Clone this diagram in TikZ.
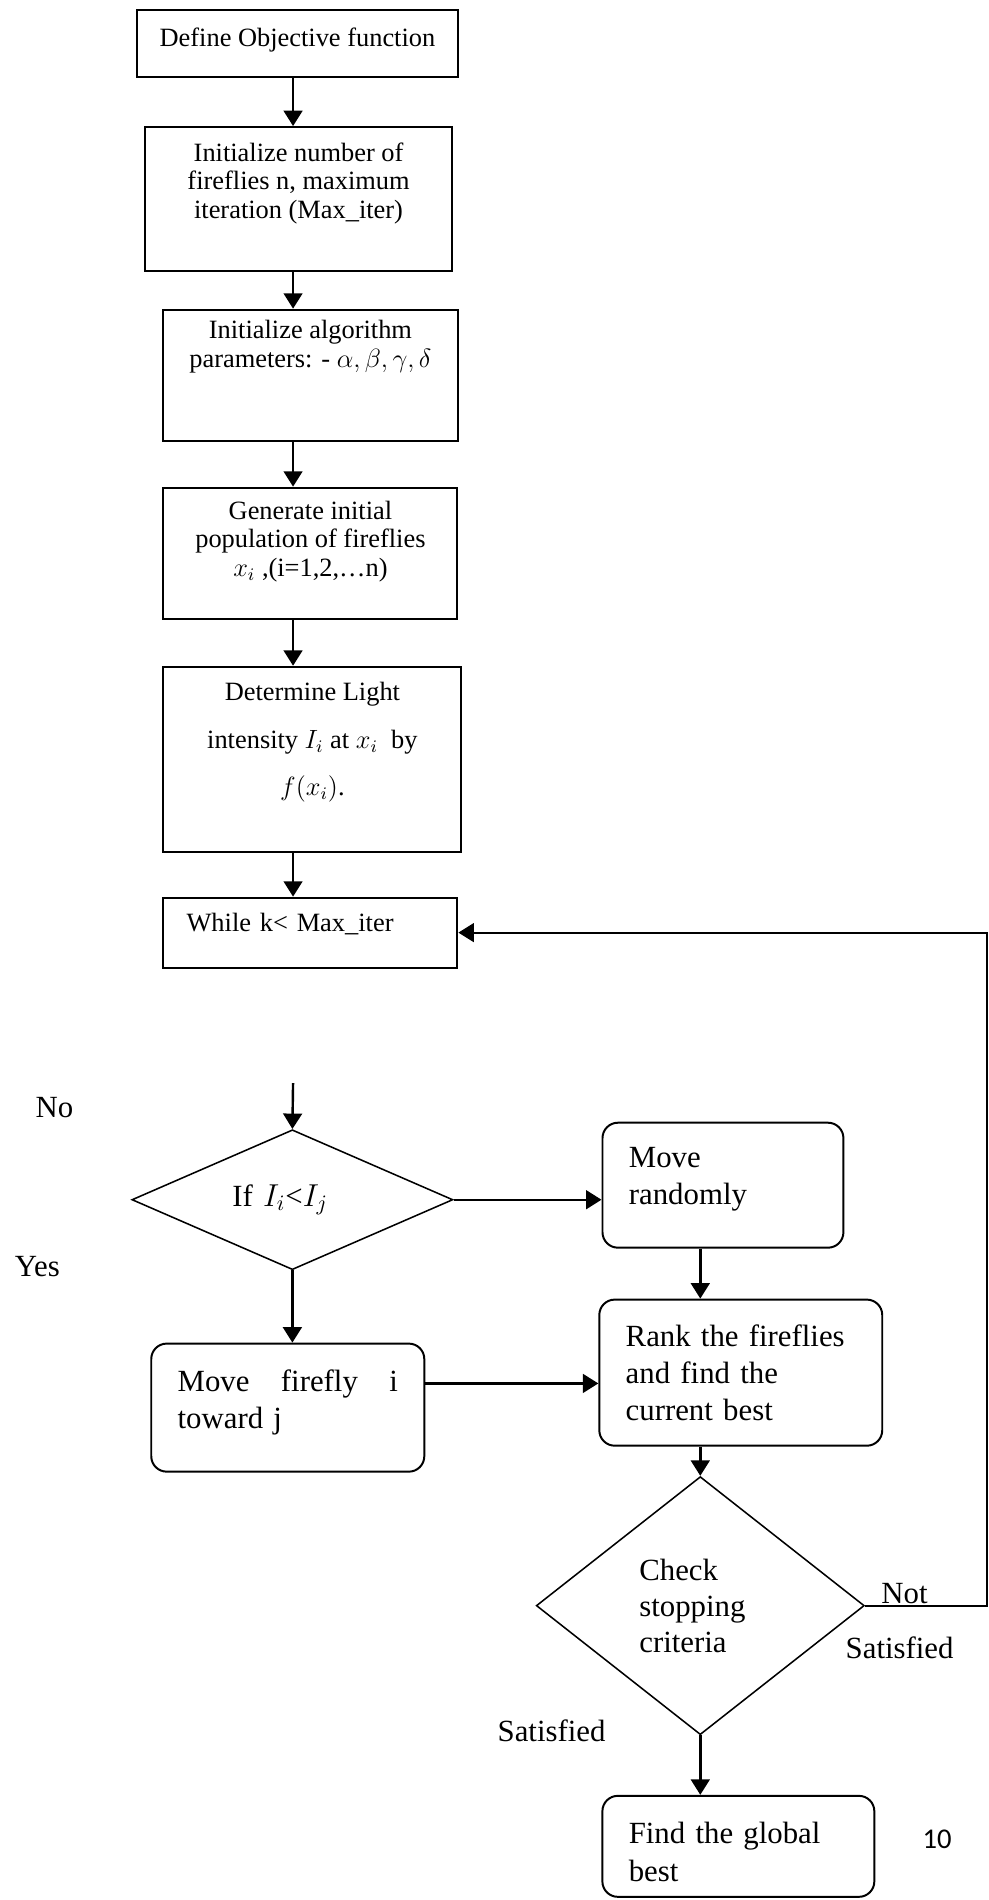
\documentclass[tikz,border=0pt]{standalone}
\usepackage{fontspec}
\setmainfont{Liberation Serif}
\newfontfamily\calibri{Carlito}
\usetikzlibrary{shapes.geometric,arrows.meta}
\tikzstyle{bt} = [rectangle, draw, line width=0.9pt, align=center,
    font=\fontsize{12}{13}\selectfont, inner sep=3pt]
\tikzstyle{rb} = [rectangle, draw, line width=0.9pt, rounded corners=7pt,
    align=left, font=\fontsize{14}{16.9}\selectfont, inner xsep=12pt, inner ysep=3pt]
\tikzstyle{dec} = [diamond, draw, line width=0.7pt, inner sep=0pt,
    font=\fontsize{14}{16.4}\selectfont]
\tikzstyle{lbl} = [font=\fontsize{14}{16.4}\selectfont, inner sep=0pt]

\begin{document}
\begin{tikzpicture}[->,>={Triangle[length=7pt,width=8.5pt]},line width=1.1pt,
                    node distance=80pt]
  \useasboundingbox (0,0) rectangle (449.5pt,-863.6pt);

  \node[bt, minimum width=145.9pt, minimum height=30.5pt, text depth=6pt] (b1) at (135.2pt,-19.8pt) {Define Objective function};
  \node[bt, minimum width=139.5pt, minimum height=65.5pt, text depth=17pt] (b2) [below of=b1, yshift=9.3pt, xshift=0.5pt] {Initialize number of\\fireflies n, maximum\\iteration (Max\_iter)};
  \node[bt, minimum width=134.1pt, minimum height=59.5pt, text depth=28.7pt] (b3) [below of=b2, xshift=5.4pt] {Initialize algorithm\\parameters: - $\alpha,\beta,\gamma, \delta$};
  \node[bt, minimum width=133.6pt, minimum height=59.5pt, text depth=13pt] (b4) [below of=b3, yshift=-0.9pt] {Generate initial\\population of fireflies\\$x_i$ ,(i=1,2,…n)};
  \node[bt, minimum width=135.5pt, minimum height=84.1pt, text depth=18.5pt, font=\fontsize{12}{21.4}\selectfont] (b5) [below of=b4, yshift=-13.7pt, xshift=0.9pt] {Determine Light\\intensity $I_i$ at $x_i$ \ by\\$f(x_i)$.};
  \node[bt, align=left, text width=112.6pt, inner xsep=10.5pt, minimum height=31.8pt, text depth=9.4pt] (b6) [below of=b5, yshift=1.2pt, xshift=-0.9pt] {While k< Max\_iter};

  \node[dec, aspect=2.3, align=left, text width=54.6pt, minimum width=145.9pt, minimum height=63.6pt] (d1) [below of=b6, yshift=-41.4pt, xshift=-8.2pt] {If $I_i$<$I_j$};
  \node[rb, text width=85.5pt, minimum height=56.8pt, text depth=25.1pt] (mr) [right of=d1, xshift=115.7pt, yshift=6.6pt] {Move\\randomly};
  \node[rb, text width=100.1pt, minimum height=58.2pt, text depth=24.4pt] (mf) [below of=d1, yshift=-14.5pt, xshift=-2.1pt] {Move \hfill firefly \hfill i\\toward j};
  \node[rb, text width=104.6pt, minimum height=66.4pt] (rk) [below of=mr, yshift=-5.2pt, xshift=8.1pt] {Rank the fireflies\\and find the\\current best};
  \node[dec, align=left, text width=55.4pt, minimum width=149.1pt, minimum height=117.3pt] (d2) [below of=rk, yshift=-25.9pt, xshift=-18.4pt] {Check\\stopping\\criteria};
  \node[rb, text width=99.6pt, minimum height=45.9pt, text depth=12pt] (gb) [below of=d2, yshift=-29.4pt, xshift=17.3pt] {Find the global\\best};

  \node[lbl] (no) at (24.8pt,-503.2pt) {No};
  \node[lbl] (yes) at (17pt,-575.9pt) {Yes};
  \node[lbl] (not) at (411.1pt,-724.1pt) {Not};
  \node[lbl] (sat1) at (408.9pt,-749pt) {Satisfied};
  \node[lbl] (sat2) at (250.7pt,-786.8pt) {Satisfied};
  \node[font=\calibri\fontsize{13}{15}\selectfont, inner sep=0pt] (pg) at (425.9pt,-835.9pt) {10};

  \coordinate (in) at (133.2pt,-492.3pt);
  \coordinate (ret) at (448.6pt,-729.5pt);

  \path (b1.south -| in) edge (b2.north -| in)
  (b2.south -| in) edge (b3.north -| in)
  (b3.south -| in) edge (b4.north -| in)
  (b4.south -| in) edge (b5.north -| in)
  (b5.south -| in) edge (b6.north -| in)
  (in) edge (d1.north)
  (d1.east) edge (d1.east -| mr.west)
  (d1.south) edge (d1.south |- mf.north)
  (mr.south -| d2.north) edge (rk.north -| d2.north)
  ([yshift=11pt]mf.east) edge ([yshift=11pt]mf.east -| rk.west)
  (rk.south -| d2.north) edge (d2.north)
  (d2.south) edge (d2.south |- gb.north);

  \draw [line width=0.9pt] (d2.east) -| (ret |- b6.east) -- (b6.east);
\end{tikzpicture}
\end{document}
